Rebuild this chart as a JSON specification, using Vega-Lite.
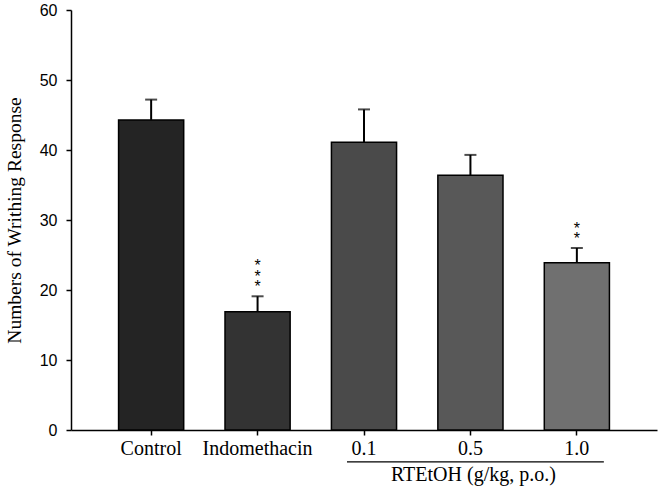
{
  "$schema": "https://vega.github.io/schema/vega-lite/v6.json",
  "width": 586,
  "height": 420,
  "autosize": {"type": "none"},
  "padding": {"top": 10, "left": 71, "right": 3, "bottom": 59},
  "background": "white",
  "config": {
    "view": {"stroke": null},
    "axis": {
      "domainColor": "black",
      "domainWidth": 1.5,
      "tickColor": "black",
      "tickWidth": 1.5,
      "grid": false,
      "labelColor": "black",
      "titleColor": "black"
    }
  },
  "datasets": {
    "bars": [
      {"group": "Control", "mean": 44.3, "hi": 47.2, "stars": ""},
      {"group": "Indomethacin", "mean": 16.9, "hi": 19.1, "stars": "*|*|*"},
      {"group": "0.1", "mean": 41.1, "hi": 45.8, "stars": ""},
      {"group": "0.5", "mean": 36.4, "hi": 39.3, "stars": ""},
      {"group": "1.0", "mean": 23.9, "hi": 26.0, "stars": "|*|*"}
    ],
    "bracket": [
      {"group": "0.1", "to": "1.0", "lvl": -4.56}
    ],
    "label": [
      {"group": "0.5", "lvl": -7.27, "text": "RTEtOH (g/kg, p.o.)"}
    ]
  },
  "encoding": {
    "x": {
      "field": "group",
      "type": "nominal",
      "sort": null,
      "scale": {
        "domain": ["Control", "Indomethacin", "0.1", "0.5", "1.0"],
        "paddingInner": 0.388,
        "paddingOuter": 0.447
      },
      "axis": {
        "title": null,
        "labelAngle": 0,
        "labelFont": "Liberation Serif",
        "labelFontSize": 20,
        "labelPadding": 3,
        "tickSize": 5
      }
    }
  },
  "layer": [
    {
      "data": {"name": "bars"},
      "mark": {"type": "bar", "stroke": "black", "strokeWidth": 1.5},
      "encoding": {
        "y": {
          "field": "mean",
          "type": "quantitative",
          "scale": {"domain": [0, 60], "nice": false},
          "axis": {
            "title": "Numbers of Writhing Response",
            "titleFont": "Liberation Serif",
            "titleFontSize": 19.5,
            "titleFontWeight": "normal",
            "titlePadding": 15,
            "values": [0, 10, 20, 30, 40, 50, 60],
            "labelFont": "Liberation Sans",
            "labelFontSize": 16,
            "labelPadding": 9,
            "tickSize": 5
          }
        },
        "fill": {
          "field": "group",
          "type": "nominal",
          "scale": {
            "domain": ["Control", "Indomethacin", "0.1", "0.5", "1.0"],
            "range": ["#242424", "#333333", "#4a4a4a", "#585858", "#707070"]
          },
          "legend": null
        }
      }
    },
    {
      "data": {"name": "bars"},
      "mark": {"type": "rule", "color": "black", "strokeWidth": 2},
      "encoding": {
        "y": {"field": "mean", "type": "quantitative", "scale": {"domain": [0, 60], "nice": false}},
        "y2": {"field": "hi"}
      }
    },
    {
      "data": {"name": "bars"},
      "mark": {"type": "tick", "color": "black", "size": 12, "thickness": 2, "orient": "horizontal"},
      "encoding": {
        "y": {"field": "hi", "type": "quantitative", "scale": {"domain": [0, 60], "nice": false}}
      }
    },
    {
      "data": {"name": "bars"},
      "transform": [{"filter": "datum.stars != ''"}],
      "mark": {"type": "text", "font": "Liberation Sans", "fontSize": 16, "lineHeight": 10.5, "lineBreak": "|", "baseline": "bottom", "align": "center", "dy": -22, "color": "black"},
      "encoding": {
        "y": {"field": "hi", "type": "quantitative", "scale": {"domain": [0, 60], "nice": false}},
        "text": {"field": "stars"}
      }
    },
    {
      "data": {"name": "bracket"},
      "mark": {"type": "rule", "color": "black", "strokeWidth": 1.2, "xOffset": -17, "x2Offset": 27},
      "encoding": {
        "x2": {"field": "to"},
        "y": {"field": "lvl", "type": "quantitative", "scale": {"domain": [0, 60], "nice": false}}
      }
    },
    {
      "data": {"name": "label"},
      "mark": {"type": "text", "font": "Liberation Serif", "fontSize": 20, "baseline": "alphabetic", "align": "center", "dx": 3, "color": "black"},
      "encoding": {
        "y": {"field": "lvl", "type": "quantitative", "scale": {"domain": [0, 60], "nice": false}},
        "text": {"field": "text"}
      }
    }
  ]
}
